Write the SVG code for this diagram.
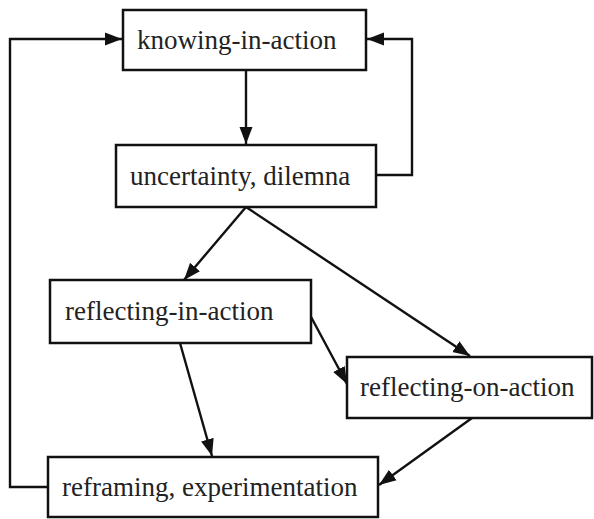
<svg xmlns="http://www.w3.org/2000/svg" width="594" height="519" viewBox="0 0 594 519">
<style>
.box{fill:#fff;stroke:#111;stroke-width:2.5}
.lbl{font-family:'Liberation Serif','Times New Roman','DejaVu Serif',serif;font-size:27px;fill:#222}
.edge{fill:none;stroke:#111;stroke-width:2.4}
</style>
<defs>
<marker id="arr" markerUnits="userSpaceOnUse" markerWidth="18" markerHeight="14" refX="17" refY="7" orient="auto">
<path d="M0,0.5 L17,7 L0,13.5 Z" fill="#111"/>
</marker>
</defs>
<rect width="594" height="519" fill="#fff"/>
<g id="connectors">
<path class="edge" d="M246,70 L246,144" marker-end="url(#arr)"/>
<path class="edge" d="M376,175 H412 V39 H367" marker-end="url(#arr)"/>
<path class="edge" d="M48,487 H10 V39 H122" marker-end="url(#arr)"/>
<path class="edge" d="M246,207 L184,280" marker-end="url(#arr)"/>
<path class="edge" d="M246,207 L470,356" marker-end="url(#arr)"/>
<path class="edge" d="M310,315 L347,384" marker-end="url(#arr)"/>
<path class="edge" d="M180,343 L212,456" marker-end="url(#arr)"/>
<path class="edge" d="M472,418 L379,485" marker-end="url(#arr)"/>
</g>
<g id="n-knowing">
<rect class="box" x="123" y="10" width="243" height="60"/>
<text class="lbl" font-family="Liberation Serif, serif" x="137" y="49">knowing-in-action</text>
</g>
<g id="n-uncertainty">
<rect class="box" x="116" y="145" width="260" height="62"/>
<text class="lbl" font-family="Liberation Serif, serif" x="130" y="185">uncertainty, dilemna</text>
</g>
<g id="n-reflecting-in">
<rect class="box" x="50" y="280" width="261" height="63"/>
<text class="lbl" font-family="Liberation Serif, serif" x="65" y="320">reflecting-in-action</text>
</g>
<g id="n-reflecting-on">
<rect class="box" x="347" y="357" width="245" height="61"/>
<text class="lbl" font-family="Liberation Serif, serif" x="360" y="396">reflecting-on-action</text>
</g>
<g id="n-reframing">
<rect class="box" x="48" y="457" width="330" height="60"/>
<text class="lbl" font-family="Liberation Serif, serif" x="62" y="496">reframing, experimentation</text>
</g>
</svg>
